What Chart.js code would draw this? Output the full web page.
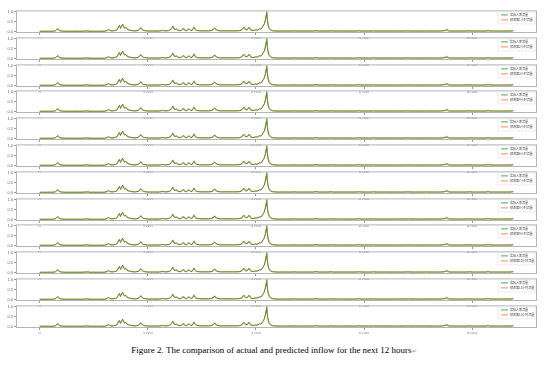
<!DOCTYPE html>
<html>
<head>
<meta charset="utf-8">
<script src="https://cdn.jsdelivr.net/npm/chart.js@4.4.3/dist/chart.umd.min.js"></script>
<style>
  html, body { margin: 0; padding: 0; background: #fff; }
  #fig { position: relative; width: 548px; height: 377px; overflow: hidden; background: #fff; }
  #fig canvas { position: absolute; left: 0; }
  #caption { position: absolute; left: 0; width: 548px; top: 345px; text-align: center;
             font-family: "Liberation Serif", "Times New Roman", serif; font-size: 9px; color: #000; }
  #caption span { color: #999; font-size: 6px; }
</style>
</head>
<body>
<div id="fig">
  <div id="caption">Figure 2. The comparison of actual and predicted inflow for the next 12 hours<span>↵</span></div>
</div>
<script>
// hourly index of each sampled point (one year of hourly data, 0..8759)
const hours = [
  0, 60, 120, 180, 240, 290, 315, 335, 355, 380,
  430, 490, 550, 610, 670, 730, 790, 850, 890, 930,
  990, 1050, 1110, 1170, 1220, 1250, 1270, 1290, 1320, 1360,
  1400, 1430, 1455, 1475, 1495, 1515, 1535, 1550, 1570, 1590,
  1610, 1640, 1680, 1720, 1770, 1820, 1850, 1870, 1890, 1920,
  1970, 2030, 2090, 2150, 2210, 2260, 2290, 2330, 2380, 2420,
  2445, 2465, 2485, 2505, 2525, 2545, 2580, 2620, 2645, 2665,
  2690, 2720, 2745, 2765, 2790, 2820, 2840, 2855, 2875, 2905,
  2950, 3000, 3060, 3120, 3170, 3210, 3235, 3255, 3290, 3340,
  3400, 3460, 3520, 3580, 3640, 3700, 3740, 3765, 3785, 3810,
  3840, 3865, 3885, 3910, 3950, 3990, 4015, 4040, 4065, 4085,
  4105, 4125, 4145, 4160, 4175, 4190, 4200, 4212, 4225, 4245,
  4270, 4300, 4350, 4410, 4470, 4530, 4590, 4650, 4700, 4750,
  4810, 4870, 4930, 4990, 5050, 5110, 5170, 5230, 5290, 5350,
  5390, 5440, 5500, 5560, 5620, 5680, 5740, 5800, 5860, 5910,
  5960, 6020, 6080, 6140, 6170, 6220, 6280, 6340, 6400, 6460,
  6520, 6580, 6640, 6700, 6760, 6815, 6870, 6930, 6990, 7050,
  7110, 7150, 7200, 7260, 7320, 7380, 7440, 7490, 7515, 7535,
  7555, 7600, 7660, 7720, 7780, 7840, 7900, 7945, 8000, 8060,
  8120, 8180, 8240, 8295, 8340, 8400, 8460, 8520, 8580, 8640,
  8700, 8759
];

// normalised actual inflow (green)
const actual = [
  0.03, 0.04, 0.03, 0.04, 0.03, 0.06, 0.12, 0.15, 0.08, 0.05,
  0.04, 0.03, 0.04, 0.03, 0.04, 0.03, 0.04, 0.05, 0.04, 0.03,
  0.04, 0.03, 0.04, 0.03, 0.05, 0.08, 0.11, 0.07, 0.05, 0.06,
  0.08, 0.12, 0.24, 0.30, 0.16, 0.30, 0.38, 0.24, 0.20, 0.22,
  0.14, 0.10, 0.07, 0.06, 0.05, 0.08, 0.14, 0.20, 0.12, 0.07,
  0.05, 0.04, 0.05, 0.04, 0.05, 0.07, 0.06, 0.05, 0.07, 0.12,
  0.22, 0.26, 0.14, 0.12, 0.16, 0.09, 0.06, 0.08, 0.16, 0.12,
  0.07, 0.06, 0.14, 0.13, 0.07, 0.08, 0.18, 0.22, 0.11, 0.07,
  0.06, 0.05, 0.06, 0.05, 0.07, 0.12, 0.19, 0.11, 0.07, 0.05,
  0.06, 0.05, 0.06, 0.05, 0.06, 0.07, 0.11, 0.22, 0.16, 0.09,
  0.12, 0.22, 0.14, 0.08, 0.07, 0.10, 0.08, 0.12, 0.16, 0.13,
  0.18, 0.28, 0.32, 0.45, 0.62, 0.80, 1.00, 0.55, 0.30, 0.16,
  0.09, 0.06, 0.05, 0.04, 0.05, 0.04, 0.05, 0.04, 0.04, 0.05,
  0.04, 0.05, 0.04, 0.05, 0.04, 0.07, 0.04, 0.05, 0.04, 0.05,
  0.06, 0.04, 0.05, 0.04, 0.05, 0.04, 0.05, 0.04, 0.05, 0.05,
  0.04, 0.05, 0.04, 0.05, 0.06, 0.04, 0.05, 0.04, 0.05, 0.04,
  0.05, 0.04, 0.05, 0.04, 0.05, 0.05, 0.04, 0.05, 0.04, 0.05,
  0.04, 0.05, 0.04, 0.05, 0.04, 0.05, 0.05, 0.06, 0.09, 0.07,
  0.05, 0.04, 0.05, 0.04, 0.05, 0.04, 0.05, 0.06, 0.04, 0.05,
  0.04, 0.05, 0.04, 0.07, 0.04, 0.05, 0.04, 0.05, 0.04, 0.05,
  0.04, 0.07
];

// normalised predicted inflow (orange)
const predicted = [
  0.03, 0.03, 0.04, 0.03, 0.04, 0.05, 0.10, 0.18, 0.12, 0.06,
  0.04, 0.04, 0.03, 0.04, 0.03, 0.04, 0.03, 0.04, 0.07, 0.04,
  0.03, 0.04, 0.03, 0.04, 0.04, 0.07, 0.13, 0.09, 0.06, 0.05,
  0.07, 0.10, 0.20, 0.34, 0.22, 0.26, 0.36, 0.32, 0.18, 0.24,
  0.18, 0.12, 0.09, 0.06, 0.06, 0.07, 0.12, 0.22, 0.16, 0.09,
  0.06, 0.05, 0.04, 0.05, 0.04, 0.06, 0.08, 0.05, 0.06, 0.10,
  0.18, 0.30, 0.18, 0.10, 0.15, 0.12, 0.07, 0.07, 0.14, 0.18,
  0.09, 0.06, 0.12, 0.17, 0.09, 0.08, 0.16, 0.26, 0.16, 0.08,
  0.06, 0.06, 0.05, 0.06, 0.06, 0.10, 0.21, 0.15, 0.08, 0.06,
  0.05, 0.06, 0.05, 0.06, 0.05, 0.06, 0.10, 0.20, 0.24, 0.12,
  0.11, 0.20, 0.22, 0.11, 0.07, 0.09, 0.11, 0.10, 0.15, 0.17,
  0.16, 0.25, 0.36, 0.42, 0.58, 0.84, 0.70, 0.62, 0.40, 0.22,
  0.12, 0.07, 0.05, 0.05, 0.04, 0.05, 0.04, 0.05, 0.07, 0.04,
  0.05, 0.04, 0.05, 0.04, 0.05, 0.05, 0.05, 0.04, 0.05, 0.04,
  0.05, 0.05, 0.04, 0.05, 0.04, 0.05, 0.04, 0.05, 0.04, 0.07,
  0.05, 0.04, 0.05, 0.04, 0.05, 0.05, 0.04, 0.05, 0.04, 0.05,
  0.04, 0.05, 0.04, 0.05, 0.04, 0.06, 0.05, 0.04, 0.05, 0.04,
  0.05, 0.05, 0.05, 0.04, 0.05, 0.04, 0.05, 0.07, 0.12, 0.14,
  0.08, 0.05, 0.04, 0.05, 0.04, 0.05, 0.04, 0.05, 0.05, 0.04,
  0.05, 0.04, 0.05, 0.05, 0.05, 0.04, 0.05, 0.04, 0.05, 0.04,
  0.05, 0.05
];

const xTicks = [0, 2000, 4000, 6000, 8000];
const yTicks = [0, 0.5, 1.0];

const actualLabel = '实际入库流量';
const predictedLabels = [
  '预测第1小时流量', '预测第2小时流量', '预测第3小时流量', '预测第4小时流量',
  '预测第5小时流量', '预测第6小时流量', '预测第7小时流量', '预测第8小时流量',
  '预测第9小时流量', '预测第10小时流量', '预测第11小时流量', '预测第12小时流量'
];

const GREEN = '#1f961f';
const ORANGE = '#ff6a2a';

// box round each panel (matplotlib style spines)
const framePlugin = {
  id: 'frame',
  afterDraw(chart) {
    const { ctx, chartArea: a } = chart;
    ctx.save();
    ctx.strokeStyle = '#b4b4b4';
    ctx.lineWidth = 1;
    ctx.strokeRect(a.left + 0.5, a.top + 0.5, a.right - a.left - 1, a.bottom - a.top - 1);
    ctx.restore();
  }
};

// small legend in the upper right corner inside the plot
const cornerLegend = {
  id: 'cornerLegend',
  afterDraw(chart) {
    const { ctx, chartArea: a } = chart;
    const w = 37, h = 12;
    const x0 = a.right - w - 2, y0 = a.top + 1.5;
    ctx.save();
    ctx.fillStyle = 'rgba(255,255,255,0.9)';
    ctx.fillRect(x0, y0, w, h);
    ctx.strokeStyle = '#dedede';
    ctx.lineWidth = 0.6;
    ctx.strokeRect(x0, y0, w, h);
    ctx.font = '3px "Noto Sans CJK SC"';
    ctx.textBaseline = 'middle';
    chart.data.datasets.forEach((ds, i) => {
      const y = y0 + 3 + i * 5;
      ctx.strokeStyle = ds.borderColor;
      ctx.lineWidth = 0.8;
      ctx.beginPath();
      ctx.moveTo(x0 + 3, y);
      ctx.lineTo(x0 + 10, y);
      ctx.stroke();
      ctx.fillStyle = '#444';
      ctx.fillText(ds.label, x0 + 12, y);
    });
    ctx.restore();
  }
};

const fig = document.getElementById('fig');
const firstTop = 7, step = 26.8;

for (let i = 0; i < 12; i++) {
  const canvas = document.createElement('canvas');
  canvas.width = 548;
  canvas.height = 32;
  canvas.style.width = '548px';
  canvas.style.height = '32px';
  canvas.style.top = (firstTop + i * step) + 'px';
  fig.appendChild(canvas);

  new Chart(canvas, {
    type: 'line',
    data: {
      datasets: [
        { label: actualLabel, data: hours.map((h, k) => ({ x: h, y: actual[k] })),
          borderColor: GREEN, borderWidth: 0.8, pointRadius: 0, tension: 0 },
        { label: predictedLabels[i], data: hours.map((h, k) => ({ x: h, y: predicted[k] })),
          borderColor: ORANGE, borderWidth: 0.8, pointRadius: 0, tension: 0 }
      ]
    },
    options: {
      responsive: false, animation: false, devicePixelRatio: 1,
      layout: { padding: { left: 0, right: 11, top: 3, bottom: 0 } },
      plugins: { legend: { display: false }, tooltip: { enabled: false } },
      scales: {
        x: {
          type: 'linear', min: -438, max: 9198,
          afterBuildTicks: s => { s.ticks = xTicks.map(v => ({ value: v })); },
          afterFit: s => { s.height = 6; },
          ticks: { font: { size: 4 }, color: '#666', padding: 1, maxRotation: 0, autoSkip: false },
          grid: { drawOnChartArea: false, tickLength: 2, color: '#999' },
          border: { display: false }
        },
        y: {
          min: -0.05, max: 1.05,
          afterBuildTicks: s => { s.ticks = yTicks.map(v => ({ value: v })); },
          afterFit: s => { s.width = 16; },
          ticks: { font: { size: 4 }, color: '#666', padding: 1, callback: v => v.toFixed(1) },
          grid: { drawOnChartArea: false, tickLength: 2, color: '#999' },
          border: { display: false }
        }
      }
    },
    plugins: [framePlugin, cornerLegend]
  });
}
</script>
</body>
</html>
